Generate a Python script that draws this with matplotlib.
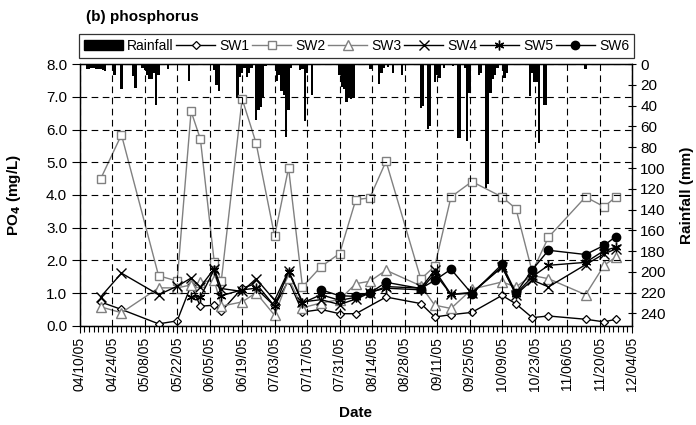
import numpy as np
import matplotlib
matplotlib.use('Agg')
import matplotlib.pyplot as plt
import matplotlib.dates as mdates
from matplotlib.patches import Patch
from matplotlib.lines import Line2D

plt.rcParams['font.family'] = ['Liberation Sans', 'DejaVu Sans']

# ---------------- data ----------------
start_date = '2005-04-10'
end_date = '2005-12-04'

sample_dates = ['2005-04-19', '2005-04-28', '2005-05-14', '2005-05-22', '2005-05-28',
                '2005-06-01', '2005-06-07', '2005-06-10', '2005-06-19', '2005-06-25',
                '2005-07-03', '2005-07-09', '2005-07-15', '2005-07-23', '2005-07-31',
                '2005-08-07', '2005-08-13', '2005-08-20', '2005-09-04', '2005-09-10',
                '2005-09-17', '2005-09-26', '2005-10-09', '2005-10-15', '2005-10-22',
                '2005-10-29', '2005-11-14', '2005-11-22', '2005-11-27']
nan = np.nan
sw1 = [0.73, 0.50, 0.06, 0.15, 1.24, 0.60, 0.63, 0.44, 1.15, 1.29, 0.60, 1.39, 0.42, 0.50,
       0.37, 0.37, nan, 0.88, 0.68, 0.27, 0.34, 0.41, 0.93, 0.67, 0.25, 0.30, 0.20, 0.12, 0.20]
sw2 = [4.49, 5.84, 1.53, 1.37, 6.56, 5.71, 1.94, 1.37, 6.94, 5.59, 2.74, 4.83, 1.19, 1.81,
       2.21, 3.86, 3.91, 5.03, 1.43, 1.82, 3.94, 4.41, 3.94, 3.58, 1.65, 2.71, 3.94, 3.64, 3.94]
sw3 = [0.58, 0.40, 1.16, 1.16, 1.25, 1.34, 1.39, 0.60, 0.73, 1.01, 0.32, 1.45, 0.55, 0.70,
       0.80, 1.29, 1.36, 1.70, 1.22, 0.63, 0.53, 1.12, 1.34, 1.19, 1.54, 1.44, 0.95, 1.85, 2.10]
sw4 = [0.88, 1.61, 0.95, 1.21, 1.46, 1.19, 1.75, 1.14, 1.05, 1.44, 0.78, 1.68, 0.73, 0.80,
       0.65, 0.82, 1.00, 1.20, 1.15, 1.70, 0.96, 1.00, 1.80, 0.95, 1.40, 1.19, 1.87, 2.20, 2.35]
sw5 = [nan, nan, nan, nan, 0.88, 0.88, 1.72, 0.92, 1.10, 1.15, 0.60, 1.65, 0.70, 0.95,
       0.78, 0.87, 1.03, 1.15, 1.10, 1.60, 0.96, 1.02, 1.80, 0.98, 1.50, 1.85, 1.94, 2.30, 2.40]
sw6 = [nan, nan, nan, nan, nan, nan, nan, nan, nan, nan, nan, nan, nan, 1.10,
       0.92, 0.90, 1.00, 1.33, 1.14, 1.39, 1.73, 0.98, 1.88, 1.00, 1.71, 2.31, 2.18, 2.46, 2.73]

# rainfall: day offset from start_date, depth in mm
rain_day = [3, 4, 5, 6, 7, 8, 9, 10, 11, 15, 18, 23, 24, 27, 28, 29, 30, 31, 32, 33, 34, 38,
            47, 58, 59, 60, 68, 69, 70, 71, 72, 73, 74, 76, 77, 78, 79, 80, 85, 86, 87, 88,
            89, 90, 91, 95, 96, 97, 98, 100, 112, 113, 114, 115, 116, 117, 118, 125, 126,
            129, 130, 131, 133, 135, 139, 147, 148, 150, 151, 153, 154, 155, 157, 161, 163,
            164, 166, 167, 168, 172, 173, 175, 176, 177, 178, 179, 180, 183, 184, 194, 195,
            196, 197, 198, 200, 201, 218]
rain_mm = [5, 5, 4, 4, 5, 5, 5, 6, 7, 10, 24, 11, 23, 4, 6, 10, 14, 14, 8, 39, 10, 5,
           16, 6, 20, 26, 33, 12, 8, 4, 12, 8, 4, 54, 44, 41, 33, 2, 16, 10, 26, 30,
           70, 44, 4, 6, 5, 55, 8, 30, 10, 22, 24, 36, 33, 34, 33, 5, 5,
           19, 8, 4, 3, 8, 10, 42, 40, 62, 60, 17, 10, 13, 4, 2, 71,
           71, 4, 74, 28, 10, 8, 119, 115, 28, 14, 10, 4, 13, 8, 31, 8,
           17, 17, 76, 39, 39, 5]

# ---------------- figure ----------------
W, H = 696, 425
fig = plt.figure(figsize=(W / 100, H / 100), dpi=100)
L, R, T, B = 79.7, 632.0, 64.2, 325.8
ax = fig.add_axes([L / W, 1 - B / H, (R - L) / W, (B - T) / H])
ax2 = ax.twinx()

t0 = np.datetime64(start_date)
t1 = np.datetime64(end_date)
sdates = np.array(sample_dates, dtype='datetime64[D]')
rdates = t0 + np.array(rain_day).astype('timedelta64[D]')

# rainfall bars (inverted secondary axis)
ax2.bar(rdates, rain_mm, width=1.0, color='black', align='center', linewidth=0)
ax2.set_ylim(252, 0)
ax2.set_yticks(np.arange(0, 241, 20))
ax2.tick_params(axis='y', direction='inout', length=6, width=0.8, labelsize=11, pad=3)
ax2.set_ylabel('Rainfall (mm)', fontsize=11, fontweight='bold', va='center')
ax2.yaxis.set_label_coords(1.1, 0.5)

# series
gray = '#808080'
styles = [
    ('SW1', sw1, dict(color='black', marker='D', ms=4.5, mfc='white', mec='black', mew=0.9)),
    ('SW2', sw2, dict(color=gray, marker='s', ms=6, mfc='white', mec=gray, mew=1.0)),
    ('SW3', sw3, dict(color=gray, marker='^', ms=6.5, mfc='white', mec=gray, mew=1.0)),
    ('SW4', sw4, dict(color='black', marker='x', ms=7, mew=1.0)),
    ('SW5', sw5, dict(color='black', marker=(6, 2, 0), ms=7, mew=1.0)),
    ('SW6', sw6, dict(color='black', marker='o', ms=6, mfc='black', mec='black')),
]
for name, vals, st in styles:
    v = np.array(vals, dtype=float)
    m = ~np.isnan(v)
    ax.plot(sdates[m], v[m], lw=1.0, label=name, **st)

ax.set_zorder(ax2.get_zorder() + 1)
ax.patch.set_visible(False)

ax.set_xlim(t0, t1)
ax.set_ylim(0, 8)
ax.set_yticks(np.arange(0, 8.01, 1.0))
ax.yaxis.set_major_formatter(matplotlib.ticker.FormatStrFormatter('%.1f'))
xt = np.arange(t0, t1 + np.timedelta64(1, 'D'), np.timedelta64(14, 'D'))
ax.set_xticks(xt)
ax.set_xticks(np.arange(t0, t1 + np.timedelta64(1, 'D'), np.timedelta64(2, 'D')), minor=True)
ax.xaxis.set_major_formatter(mdates.DateFormatter('%m/%d/%y'))
for lab in ax.get_xticklabels():
    lab.set_rotation(90)
ax.tick_params(axis='x', which='major', direction='out', length=5, width=0.8, labelsize=10, pad=3)
ax.tick_params(axis='x', which='minor', direction='out', length=4, width=0.8)
ax.tick_params(axis='y', direction='out', length=6, width=0.8, labelsize=11, pad=3)

ax.grid(True, which='major', color='black', linestyle=(0, (6, 4)), linewidth=0.8)
ax.set_axisbelow(False)

for sp in ['left', 'bottom', 'right', 'top']:
    ax.spines[sp].set_linewidth(0.9)
    ax2.spines[sp].set_linewidth(0.9)

ax.set_ylabel('PO$_\\mathbf{4}$ (mg/L)', fontsize=11, fontweight='bold')
ax.yaxis.set_label_coords(-0.103, 0.5)
ax.set_xlabel('Date', fontsize=11, fontweight='bold')
ax.xaxis.set_label_coords(0.5, -0.335)
ax.xaxis.label.set_va('center')

# legend
handles = [Patch(facecolor='black', edgecolor='black')]
labels = ['Rainfall']
for name, vals, st in styles:
    handles.append(Line2D([], [], lw=1.0, **st))
    labels.append(name)
leg = fig.legend(handles, labels, ncol=7, loc='lower left',
                 bbox_to_anchor=(79 / W, 1 - 58 / H, (634 - 79) / W, 26 / H),
                 mode='expand', frameon=True, fancybox=False, borderaxespad=0,
                 handlelength=2.8, handletextpad=0.3, columnspacing=0.8,
                 fontsize=10, borderpad=0.35)
leg.get_frame().set_edgecolor('black')
leg.get_frame().set_linewidth(0.9)

fig.text(86 / W, 1 - 17 / H, '(b) phosphorus', fontsize=11, fontweight='bold',
         ha='left', va='center')

fig.savefig('out.png', dpi=100)
